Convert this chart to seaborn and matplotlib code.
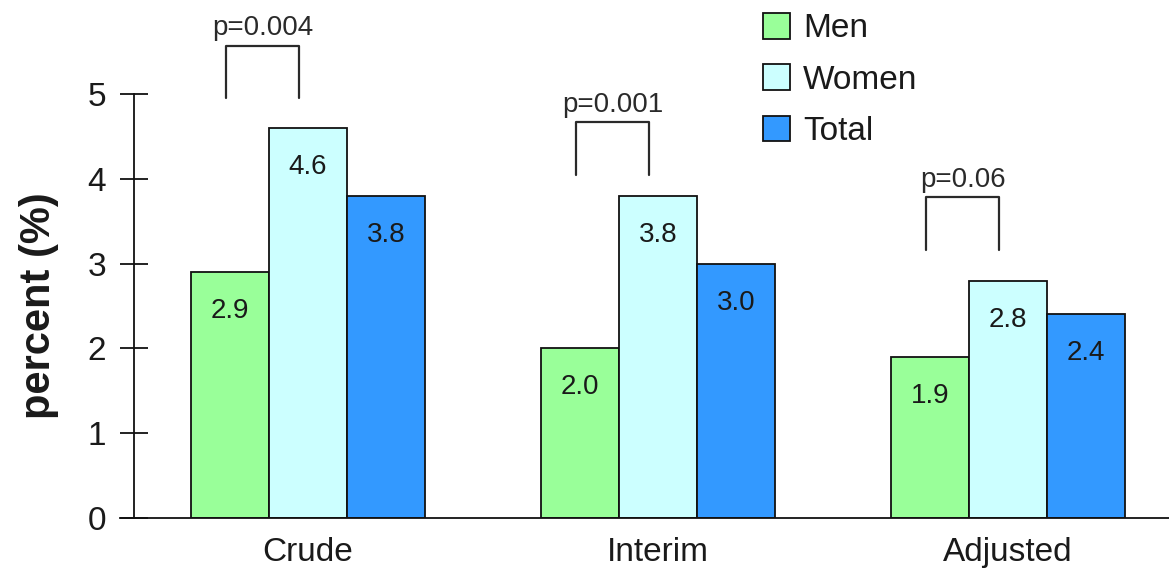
import matplotlib
matplotlib.use("Agg")
import matplotlib.pyplot as plt
import seaborn as sns
import pandas as pd

# Prevalence estimates by sex
estimates = ["Crude", "Interim", "Adjusted"]
groups = ["Men", "Women", "Total"]
men = [2.9, 2.0, 1.9]
women = [4.6, 3.8, 2.8]
total = [3.8, 3.0, 2.4]
p_values = ["p=0.004", "p=0.001", "p=0.06"]
y_ticks = [0, 1, 2, 3, 4, 5]

colors = ["#99ff99", "#ccffff", "#3399ff"]

df = pd.DataFrame({
    "estimate": estimates * 3,
    "group": [g for g in groups for _ in estimates],
    "percent": men + women + total,
})

sns.set_theme(style="white")
plt.rcParams["font.family"] = ["Liberation Sans", "DejaVu Sans"]
text_color = "#1a1a1a"

W, H = 1169, 570
fig = plt.figure(figsize=(W / 100, H / 100), dpi=100)
ax = fig.add_axes([120 / W, (H - 518) / H, (1169 - 120) / W, (518 - 94) / H])

sns.barplot(data=df, x="estimate", y="percent", hue="group", hue_order=groups,
            palette=colors, saturation=1, width=0.668, edgecolor="#111111",
            linewidth=1.3, ax=ax)

ax.set_xlim(-0.537, 2.46)
ax.set_ylim(0, 5)
ax.set_yticks(y_ticks)
ax.set_xlabel("")

# axis styling: y spine sits inside the axes, x axis runs full width
for side in ("top", "right"):
    ax.spines[side].set_visible(False)
ax.spines["left"].set_position(("data", -0.497))
for side in ("left", "bottom"):
    ax.spines[side].set_color("#111111")
    ax.spines[side].set_linewidth(1.3)
ax.tick_params(axis="y", left=True, direction="inout", length=20, width=1.3,
               color="#111111", labelsize=24, labelcolor=text_color, pad=10)
ax.tick_params(axis="x", bottom=False, length=0, labelsize=24,
               labelcolor=text_color, pad=14)

ax.set_ylabel("percent (%)", fontsize=30, fontweight="bold", color=text_color)
ax.yaxis.set_label_coords(-0.058, 0.5)

# value labels inside the top of each bar
for container in ax.containers:
    for bar in container:
        h = bar.get_height()
        ax.text(bar.get_x() + bar.get_width() / 2, h - 0.46, f"{h:.1f}",
                ha="center", va="center", fontsize=20, color=text_color)

# significance brackets between men and women
men_bars, women_bars = ax.containers[0], ax.containers[1]
bracket_base = [4.95, 4.05, 3.16]
for i, label in enumerate(p_values):
    x1 = men_bars[i].get_x() + men_bars[i].get_width() / 2 - 0.012
    x2 = women_bars[i].get_x() + women_bars[i].get_width() / 2 - 0.025
    y0 = bracket_base[i]
    y1 = y0 + 0.62
    ax.plot([x1, x1, x2, x2], [y0, y1, y1, y0], color="#2a2a2a", lw=1.6,
            clip_on=False)
    ax.text((x1 + x2) / 2, y1 + 0.05, label, ha="center", va="bottom",
            fontsize=20, color="#2a2a2a", clip_on=False)

handles, labels = ax.get_legend_handles_labels()
ax.get_legend().remove()
fig.legend(handles, labels, loc="upper left", bbox_to_anchor=(763 / W, 1 - 13 / H),
           frameon=False, fontsize=24, handlelength=0.8, handleheight=0.8,
           handletextpad=0.4, labelspacing=0.6, borderpad=0, borderaxespad=0,
           labelcolor=text_color)

fig.savefig("out.png", dpi=100)
